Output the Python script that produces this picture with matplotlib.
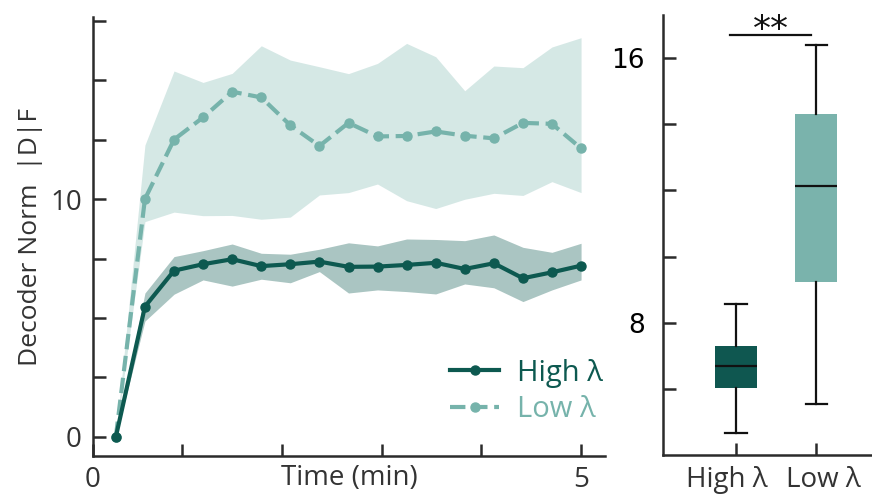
import matplotlib
matplotlib.use("Agg")
import matplotlib.pyplot as plt
from matplotlib.transforms import ScaledTranslation

plt.rcParams['font.family'] = ['Open Sans', 'DejaVu Sans']

# ---------------- data ----------------
time_min = [0.333, 0.625, 0.917, 1.208, 1.5, 1.792, 2.083, 2.375, 2.667,
            2.958, 3.25, 3.542, 3.833, 4.125, 4.417, 4.708, 5.0]

high_mean = [0.0, 5.48, 6.99, 7.26, 7.47, 7.18, 7.26, 7.37, 7.15,
             7.16, 7.23, 7.32, 7.06, 7.30, 6.67, 6.92, 7.20]
high_upper = [0.0, 6.05, 7.58, 7.83, 8.11, 7.72, 7.68, 7.89, 8.16,
              8.03, 8.32, 8.30, 8.25, 8.49, 7.97, 7.76, 8.14]
high_lower = [0.0, 4.87, 6.00, 6.60, 6.34, 6.63, 6.48, 6.95, 6.05,
              6.18, 6.11, 6.01, 6.43, 6.27, 5.69, 6.18, 6.60]

low_mean = [0.0, 10.0, 12.5, 13.43, 14.51, 14.27, 13.1, 12.23, 13.2,
            12.63, 12.65, 12.84, 12.66, 12.55, 13.2, 13.16, 12.13]
low_upper = [0.0, 12.27, 15.38, 14.9, 15.28, 16.44, 15.84, 15.56, 15.27,
             15.7, 16.54, 15.98, 14.55, 15.59, 15.52, 16.39, 16.78]
low_lower = [0.0, 9.05, 9.45, 9.3, 9.31, 9.15, 9.24, 10.17, 10.27,
             10.63, 9.93, 9.6, 9.99, 10.24, 10.15, 10.73, 10.27]

box_labels = ['High λ', 'Low λ']
box_whislo = [4.65, 5.54]
box_q1 = [6.02, 9.24]
box_med = [6.68, 12.13]
box_q3 = [7.29, 14.32]
box_whishi = [8.56, 16.38]
sig_text = '**'

series_labels = ['High λ', 'Low λ']

# ---------------- style ----------------
c_high = '#0d5950'
c_low = '#76b3ab'
c_high_box = '#0f5750'
c_low_box = '#7ab3ac'
txt = '#333333'

W, H = 872, 501
fig = plt.figure(figsize=(W / 100, H / 100), dpi=100)


def px_axes(x0, y0, x1, y1):
    return fig.add_axes([x0 / W, 1 - y1 / H, (x1 - x0) / W, (y1 - y0) / H])


# ---------------- left panel ----------------
ax = px_axes(93, 17, 605, 456)
ax.fill_between(time_min, low_lower, low_upper, color=c_low, alpha=0.3, lw=0)
ax.fill_between(time_min, high_lower, high_upper, color=c_high, alpha=0.35, lw=0)
ax.plot(time_min, low_mean, '--', color=c_low, lw=3, marker='o', ms=6.5,
        label=series_labels[1], zorder=3)
ax.plot(time_min, high_mean, '-', color=c_high, lw=3, marker='o', ms=6.5,
        label=series_labels[0], zorder=4)

xmin, xmax = 0.104, 5.24
ax.set_xlim(xmin, xmax)
ax.set_ylim(-0.8, 17.65)
ax.set_xticks([xmin, 1, 2, 3, 4, 5])
ax.set_xticklabels(['0', '', '', '', '', '5'])
ax.set_yticks([0, 2.5, 5, 7.5, 10, 12.5, 15, 17.5])
ax.set_yticklabels(['0', '', '', '', '10', '', '', ''])
for s in ['top', 'right']:
    ax.spines[s].set_visible(False)
for s in ['left', 'bottom']:
    ax.spines[s].set_linewidth(1.8)
    ax.spines[s].set_color('#2b2b2b')
ax.tick_params(direction='in', length=9, width=1.8, color='#2b2b2b',
               labelsize=20, labelcolor=txt)
ax.tick_params(axis='y', pad=8)
ax.tick_params(axis='x', pad=7)
ax.set_ylabel('Decoder Norm  |D|F', fontsize=19, color=txt, labelpad=5)
ax.text(0.5, -0.05, 'Time (min)', transform=ax.transAxes, ha='center',
        va='center', fontsize=20, color=txt)

h, l = ax.get_legend_handles_labels()
leg = ax.legend([h[1], h[0]], [l[1], l[0]], loc='lower right',
                bbox_to_anchor=(1.024, 0.04), frameon=False, fontsize=21,
                handlelength=1.7, handletextpad=0.6, labelspacing=0.25,
                borderpad=0, labelcolor='linecolor')

# ---------------- right panel ----------------
bx = px_axes(663, 15, 872, 455)
stats = []
for i in range(2):
    stats.append(dict(label=box_labels[i], med=box_med[i], q1=box_q1[i],
                      q3=box_q3[i], whislo=box_whislo[i], whishi=box_whishi[i],
                      fliers=[]))
bp = bx.bxp(stats, positions=[1, 2], widths=0.52, patch_artist=True,
            showfliers=False, capwidths=0.27,
            medianprops=dict(color='#111111', lw=1.6),
            whiskerprops=dict(color='#111111', lw=1.6),
            capprops=dict(color='#111111', lw=1.6),
            boxprops=dict(lw=0))
for patch, c in zip(bp['boxes'], [c_high_box, c_low_box]):
    patch.set_facecolor(c)
    patch.set_edgecolor(c)

bx.set_xlim(0.095, 2.69)
bx.set_ylim(4, 17.3)
bx.set_yticks([6, 8, 10, 12, 14, 16])
bx.set_yticklabels(['', '8', '', '', '', '16'], family='DejaVu Sans')
for s in ['top', 'right']:
    bx.spines[s].set_visible(False)
for s in ['left', 'bottom']:
    bx.spines[s].set_linewidth(1.8)
    bx.spines[s].set_color('#2b2b2b')
bx.tick_params(direction='in', length=9, width=1.8, color='#2b2b2b')
bx.tick_params(axis='y', labelsize=19, labelcolor='black', pad=13)
bx.tick_params(axis='x', labelsize=20, labelcolor=txt, pad=8)

# spread the two category labels apart slightly, as in the reference
for lab, dx in zip(bx.get_xticklabels(), [-0.09, 0.07]):
    lab.set_transform(lab.get_transform() +
                      ScaledTranslation(dx, 0, fig.dpi_scale_trans))

bx.plot([0.93, 1.93], [16.69, 16.69], color='#111111', lw=1.6)
bx.text(1.43, 16.55, sig_text, ha='center', va='baseline', fontsize=26,
        family='DejaVu Sans', color='#111111')

fig.savefig('out.png', dpi=100)
